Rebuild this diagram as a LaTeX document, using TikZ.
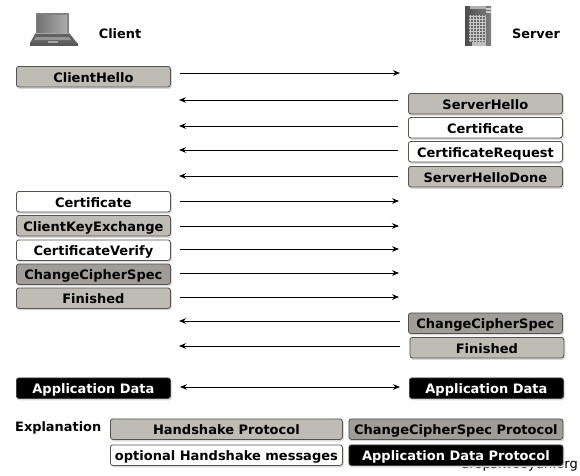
\documentclass[tikz,border=0pt]{standalone}
\usepackage{fontspec}
\setmainfont{DejaVu Sans}
\usetikzlibrary{arrows.meta}
\definecolor{hs}{HTML}{BFBBB5}
\definecolor{ccs}{HTML}{A09C97}
\definecolor{edge}{HTML}{55534F}
\tikzset{
  msg/.style={draw=edge,line width=0.8pt,rounded corners=2.5pt,minimum height=20.5pt,inner sep=0pt,text height=12.3pt,text depth=0.7pt,font=\bfseries\fontsize{13}{15}\selectfont,anchor=north west,
    preaction={draw=black!14,fill=black!14,line width=1pt,transform canvas={xshift=1pt,yshift=-1.5pt}}},
  hsbox/.style={msg,fill=hs,text=black},
  optbox/.style={msg,fill=white,text=black},
  ccsbox/.style={msg,fill=ccs,text=black},
  appbox/.style={msg,fill=black,draw=black!75,text=white},
  wide/.style={minimum width=154pt},
  flow/.style={-{Stealth[length=7pt,width=5.5pt]},line width=0.8pt,black,shorten >=0pt},
  heading/.style={font=\bfseries\fontsize{12.9}{15}\selectfont,inner sep=0pt},
  note/.style={font=\rmfamily\fontsize{13}{15}\selectfont,anchor=base east,inner sep=0pt},
}
\begin{document}
\begin{tikzpicture}[x=1pt,y=-1pt]
\useasboundingbox (0,0) rectangle (580,475);
\fill[white] (0,0) rectangle (580,475);
% watermark
\node[note] (mark) at (578,468.5) {drops.wooyun.org};
% laptop
\fill[black!50] (36,13) rectangle (68.5,34);
\shade[left color=black!55,right color=black!32] (37.5,15) rectangle (67,32);
\fill[black!35] (35,33) rectangle (70,34.2);
\fill[black!62] (35,34) -- (70,34) -- (77,43) -- (30,43) -- cycle;
\fill[black!42] (36,37) -- (69,37) -- (71,40) -- (34,40) -- cycle;
\fill[black!65] (30,43) rectangle (78,46);
\fill[black!35] (48,41) rectangle (58,43);
% server
\shade[left color=black!70,right color=black!50] (465,6) rectangle (491,45.5);
\fill[black!30] (470,6) rectangle (486,9);
\fill[black!55] (486,8) rectangle (491,13);
\fill[black!20] (486,8) rectangle (490.5,9.5);
\fill[black!20] (486,11) rectangle (490.5,12.5);
\fill[black!58] (468.5,15) rectangle (486,42);
\foreach \yy in {16,19,...,41} \draw[black!22,line width=0.8pt] (468.5,\yy) -- (486,\yy);
\foreach \xx in {470,473,...,485} \draw[black!22,line width=0.8pt] (\xx,15) -- (\xx,42);
\fill[black!25] (472,42) rectangle (486,45.5);
\node[heading] (client) at (120,34) {Client};
\node[heading] (server) at (536,34) {Server};
% left column
\node[hsbox,wide] (ch) at (16,66) {ClientHello};
\node[optbox,wide] (lcert) at (16,191) {Certificate};
\node[hsbox,wide] (cke) at (16,215) {ClientKeyExchange};
\node[optbox,wide] (cv) at (16,239.5) {CertificateVerify};
\node[ccsbox,wide] (lccs) at (16,263.5) {ChangeCipherSpec};
\node[hsbox,wide] (lfin) at (16,287.5) {Finished};
\node[appbox,wide] (lapp) at (16,377.5) {Application Data};
% right column
\node[hsbox,wide] (sh) at (408,93) {ServerHello};
\node[optbox,wide] (rcert) at (408,117) {Certificate};
\node[optbox,wide] (cr) at (408,141) {CertificateRequest};
\node[hsbox,wide] (shd) at (408,166) {ServerHelloDone};
\node[ccsbox,wide] (rccs) at (408,312.5) {ChangeCipherSpec};
\node[hsbox,wide] (rfin) at (409.5,337) {Finished};
\node[appbox,wide] (rapp) at (409,377.5) {Application Data};
% free ends of the connectors
\foreach \nm/\xx/\yy in {a1/180/73,b1/400/73,a2/398/100,b2/179/100,a3/398/126,b3/179/126,a4/398/150,b4/179/150,a5/398/176,b5/179/176,
  a6/180/201,b6/399/201,a7/180/226,b7/399/226,a8/180/249,b8/399/249,a9/180/273,b9/399/273,a10/180/297,b10/399/297,
  a11/400/321,b11/179/321,a12/400/346,b12/179/346,a13/180/387,b13/400/387}
  \coordinate (\nm) at (\xx,\yy);
\foreach \i in {1,...,12} \draw[flow] (a\i) -- (b\i);
\draw[flow,{Stealth[length=7pt,width=5.5pt]}-{Stealth[length=7pt,width=5.5pt]}] (a13) -- (b13);
% legend
\node[heading,anchor=base west] (expl) at (15,431) {Explanation};
\node[hsbox,minimum width=232pt] (lg1) at (110,418.5) {Handshake Protocol};
\node[optbox,minimum width=232pt] (lg2) at (110,444.5) {optional Handshake messages};
\node[ccsbox,minimum width=214pt] (lg3) at (348.5,418.5) {ChangeCipherSpec Protocol};
\node[appbox,minimum width=214pt] (lg4) at (348.5,444.5) {Application Data Protocol};
\end{tikzpicture}
\end{document}
